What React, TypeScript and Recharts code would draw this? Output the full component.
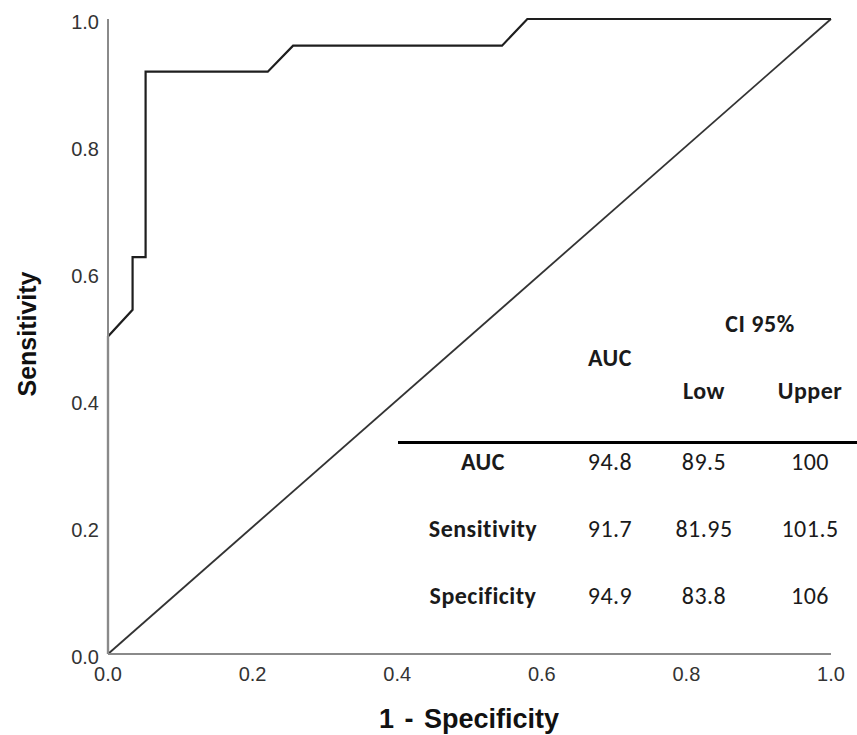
import React from "react";
import { LineChart, Line, XAxis, YAxis } from "recharts";

// ROC curve points
const fpr = [0, 0, 0.034, 0.034, 0.052, 0.052, 0.221, 0.256, 0.545, 0.58, 1];
const tpr = [0, 0.5, 0.542, 0.625, 0.625, 0.917, 0.917, 0.958, 0.958, 1, 1];

// chance diagonal
const diagX = [0, 1];
const diagY = [0, 1];

const axisTicks = [0, 0.2, 0.4, 0.6, 0.8, 1];

// summary table
const rowLabels = ["AUC", "Sensitivity", "Specificity"];
const aucValues = ["94.8", "91.7", "94.9"];
const lowValues = ["89.5", "81.95", "83.8"];
const upperValues = ["100", "101.5", "106"];

const rocData = fpr.map((x, i) => ({ fpr: x, tpr: tpr[i] }));
const diagData = diagX.map((x, i) => ({ fpr: x, tpr: diagY[i] }));

const W = 857;
const H = 735;
const tickStyle = { fill: "#333", fontSize: 20, fontFamily: "Liberation Sans, Arial, sans-serif" };
const tableFont = "Carlito, Lato, sans-serif";

function Overlay() {
  const colX = [483, 610, 704, 810];
  const rowY = [470, 537, 604];
  return (
    <svg
      width={W}
      height={H}
      style={{ position: "absolute", left: 0, top: 0, pointerEvents: "none" }}
    >
      <text
        transform="translate(36,334) rotate(-90)"
        textAnchor="middle"
        fontSize={25}
        fontWeight="bold"
        fontFamily="Liberation Sans, Arial, sans-serif"
        fill="#111"
      >
        Sensitivity
      </text>
      <text
        x={469}
        y={728}
        textAnchor="middle"
        fontSize={27}
        fontWeight="bold"
        fontFamily="Liberation Sans, Arial, sans-serif"
        fill="#111"
        style={{ wordSpacing: 3 }}
      >
        1 - Specificity
      </text>

      <g
        fontFamily={tableFont}
        fontSize={24}
        fill="#1a1a1a"
        textAnchor="middle"
        style={{ letterSpacing: 0.5 }}
      >
        <text x={760} y={332} fontWeight="bold">CI 95%</text>
        <text x={colX[1]} y={366} fontWeight="bold">AUC</text>
        <text x={colX[2]} y={399} fontWeight="bold">Low</text>
        <text x={colX[3]} y={399} fontWeight="bold">Upper</text>
        <line x1={398} x2={857} y1={442.5} y2={442.5} stroke="#000" strokeWidth={3} />
        {rowLabels.map((label, i) => (
          <g key={label}>
            <text x={colX[0]} y={rowY[i]} fontWeight="bold">{label}</text>
            <text x={colX[1]} y={rowY[i]}>{aucValues[i]}</text>
            <text x={colX[2]} y={rowY[i]}>{lowValues[i]}</text>
            <text x={colX[3]} y={rowY[i]}>{upperValues[i]}</text>
          </g>
        ))}
      </g>
    </svg>
  );
}

export default function App() {
  return (
    <div style={{ position: "absolute", left: 0, top: 0, width: W, height: H, background: "#fff" }}>
      <LineChart width={W} height={H} margin={{ top: 19, right: 26, left: 0, bottom: 0 }}>
        <XAxis
          type="number"
          dataKey="fpr"
          domain={[0, 1]}
          ticks={axisTicks}
          tickFormatter={(v: number) => v.toFixed(1)}
          height={81}
          tickLine={false}
          tickSize={0}
          tickMargin={13}
          tick={tickStyle}
          axisLine={{ stroke: "#8a8a8a", strokeWidth: 2 }}
          allowDuplicatedCategory={false}
        />
        <YAxis
          type="number"
          dataKey="tpr"
          domain={[0, 1]}
          ticks={axisTicks}
          tickFormatter={(v: number) => v.toFixed(1)}
          width={108}
          tickLine={false}
          tickSize={0}
          tickMargin={9}
          tick={{ ...tickStyle, dy: 3 }}
          axisLine={{ stroke: "#8a8a8a", strokeWidth: 2 }}
        />
        <Line
          data={diagData}
          dataKey="tpr"
          type="linear"
          stroke="#333"
          strokeWidth={1.8}
          dot={false}
          isAnimationActive={false}
        />
        <Line
          data={rocData}
          dataKey="tpr"
          type="linear"
          stroke="#1e1e1e"
          strokeWidth={2.2}
          dot={false}
          isAnimationActive={false}
        />
      </LineChart>
      <Overlay />
    </div>
  );
}
